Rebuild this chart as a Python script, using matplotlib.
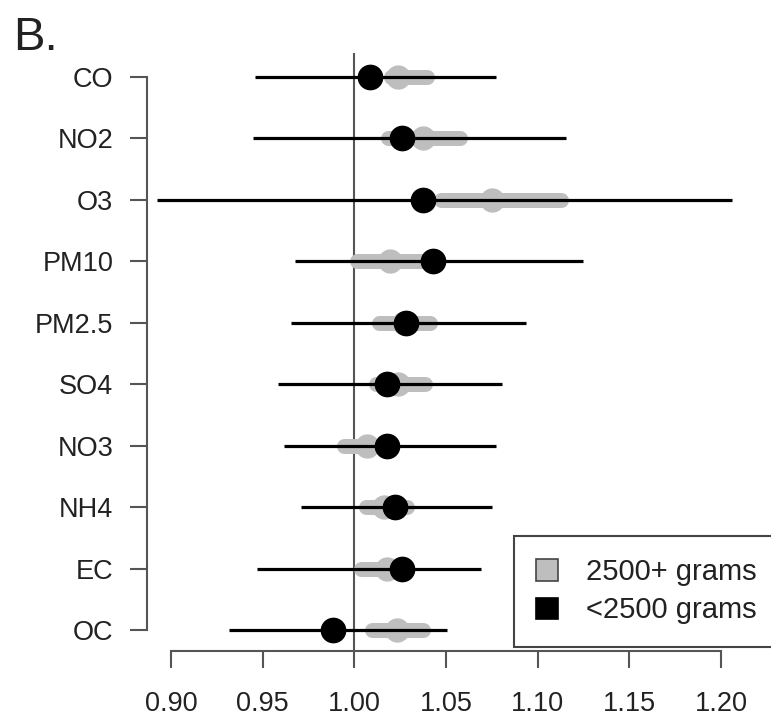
import matplotlib.pyplot as plt
from matplotlib.patches import Patch

plt.rcParams['font.family'] = ['Liberation Sans', 'DejaVu Sans']

# pollutants, top to bottom
pollutants = ["CO", "NO2", "O3", "PM10", "PM2.5", "SO4", "NO3", "NH4", "EC", "OC"]

# <2500 grams (black)
low_est = [1.0085, 1.0258, 1.0373, 1.0431, 1.0280, 1.0177, 1.0177, 1.0222, 1.0258, 0.9886]
low_lo = [0.9458, 0.9449, 0.8922, 0.9676, 0.9655, 0.9585, 0.9618, 0.9709, 0.9467, 0.9318]
low_hi = [1.0773, 1.1153, 1.2062, 1.1246, 1.0935, 1.0804, 1.0773, 1.0753, 1.0691, 1.0504]

# 2500+ grams (gray)
high_est = [1.0237, 1.0376, 1.0749, 1.0195, 1.0270, 1.0240, 1.0067, 1.0160, 1.0180, 1.0231]
high_lo = [1.0199, 1.0181, 1.0472, 1.0017, 1.0136, 1.0117, 0.9941, 1.0063, 1.0035, 1.0099]
high_hi = [1.0399, 1.0578, 1.1126, 1.0380, 1.0412, 1.0384, 1.0080, 1.0290, 1.0230, 1.0372]

xticks = [0.90, 0.95, 1.00, 1.05, 1.10, 1.15, 1.20]

W, H = 771, 724
GRAY = "#bebebe"
AXCOL = "#555555"
TXT = "#222222"
FS = 19.5

fig = plt.figure(figsize=(W / 100, H / 100), dpi=100)

# axes box in pixels
left_px, right_px, top_px, bot_px = 146.7, 765, 50, 651
ax = fig.add_axes([left_px / W, 1 - bot_px / H, (right_px - left_px) / W, (bot_px - top_px) / H])

# pixel -> data mapping
x0_px, px_per_unit = 171.0, 1833.3
y0_px, px_per_row = 76.7, 61.48
ax.set_xlim(0.9 + (left_px - x0_px) / px_per_unit, 0.9 + (right_px - x0_px) / px_per_unit)
ymax = (bot_px - y0_px) / px_per_row
ax.set_ylim(ymax, (top_px - y0_px) / px_per_row)

ypos = list(range(len(pollutants)))

# reference line at 1
ax.vlines(1.0, (53 - y0_px) / px_per_row, ymax, color=AXCOL, linewidth=1.5, zorder=1)

for i in ypos:
    ax.plot([high_lo[i], high_hi[i]], [i, i], color=GRAY, linewidth=10.8,
            solid_capstyle="round", zorder=2)
    ax.plot(high_est[i], i, "o", color=GRAY, markersize=16.5, zorder=3)
    ax.plot([low_lo[i], low_hi[i]], [i, i], color="black", linewidth=2.3,
            solid_capstyle="butt", zorder=4)
    ax.plot(low_est[i], i, "o", color="black", markersize=17.5, zorder=5)

for s in ["top", "right"]:
    ax.spines[s].set_visible(False)
for s in ["left", "bottom"]:
    ax.spines[s].set_color(AXCOL)
    ax.spines[s].set_linewidth(1.5)
ax.spines["left"].set_bounds(0, len(pollutants) - 1)
ax.spines["bottom"].set_bounds(xticks[0], xticks[-1])

ax.set_yticks(ypos)
ax.set_yticklabels(pollutants)
ax.set_xticks(xticks)
ax.set_xticklabels([f"{v:.2f}" for v in xticks])
ax.tick_params(axis="both", length=12, width=1.5, color=AXCOL, labelsize=FS,
               labelcolor=TXT)
ax.tick_params(axis="y", pad=12)
ax.tick_params(axis="x", pad=17)

handles = [Patch(facecolor=GRAY, edgecolor="#444444", linewidth=1.2, label="2500+ grams"),
           Patch(facecolor="black", edgecolor="black", linewidth=1.2, label="<2500 grams")]
leg = ax.legend(handles=handles, loc="upper left",
                bbox_to_anchor=(514 / W, 1 - 536 / H), bbox_transform=fig.transFigure,
                fontsize=21, frameon=True, fancybox=False, framealpha=1,
                handlelength=0.75, handleheight=0.75, handletextpad=0.95,
                borderpad=0.76, labelspacing=0.35, borderaxespad=0)
leg.get_frame().set_edgecolor("#444444")
leg.get_frame().set_linewidth(1.5)
for t in leg.get_texts():
    t.set_color(TXT)

fig.text(13 / W, 1 - 50 / H, "B.", fontsize=34, color=TXT, va="baseline", ha="left")

fig.savefig("out.png", dpi=100)
